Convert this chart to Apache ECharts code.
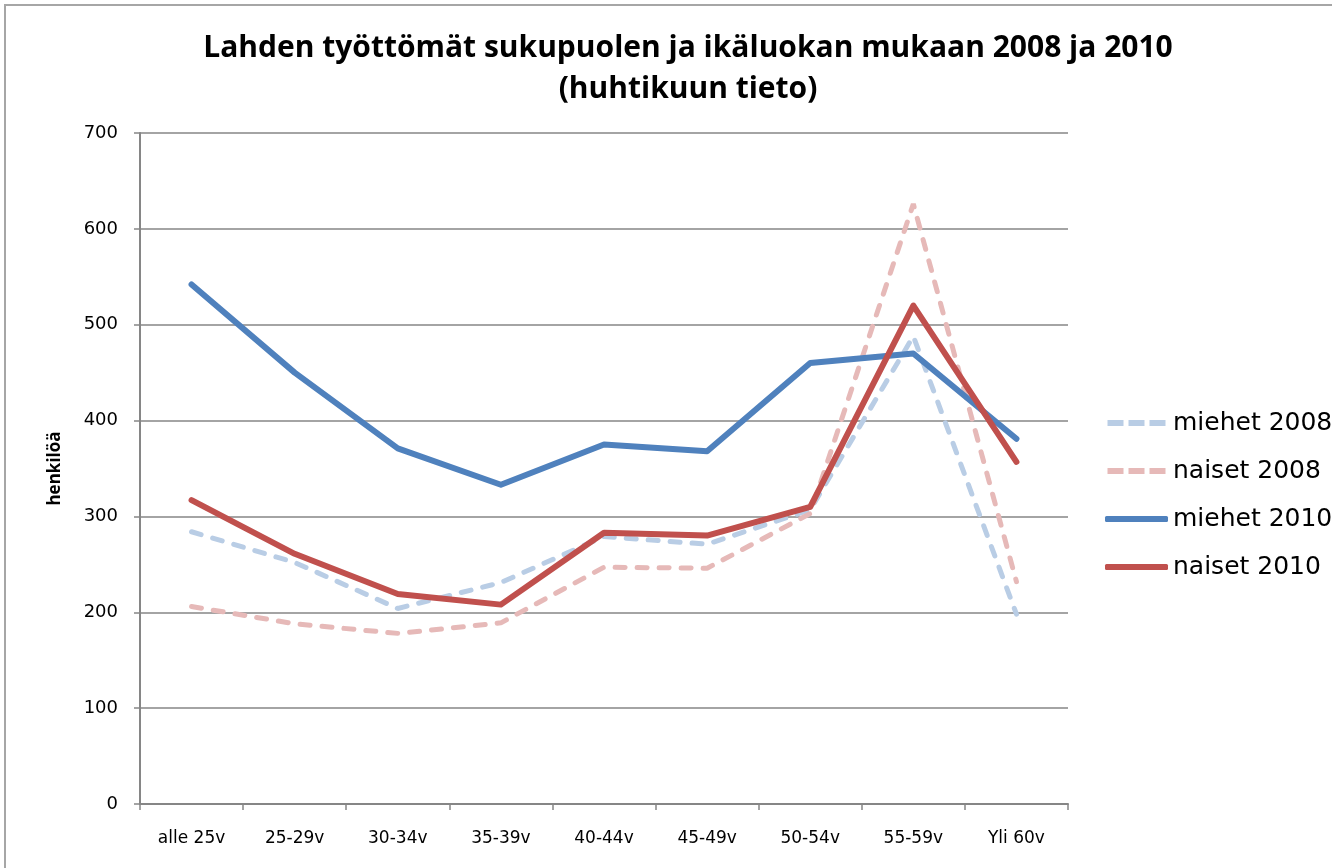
<!DOCTYPE html>
<html>
<head>
<meta charset="utf-8">
<script src="https://cdn.jsdelivr.net/npm/echarts@6/dist/echarts.min.js"></script>
<style>
  html, body { margin: 0; padding: 0; background: #fff; }
  #chart { width: 1332px; height: 868px; }
</style>
</head>
<body>
<div id="chart"></div>
<script>
// ikäluokat
const categories = ["alle 25v", "25-29v", "30-34v", "35-39v", "40-44v", "45-49v", "50-54v", "55-59v", "Yli 60v"];
const miehet2008 = [284, 252, 204, 231, 279, 271, 307, 488, 198];
const naiset2008 = [206, 188, 178, 189, 247, 246, 303, 626, 232];
const miehet2010 = [542, 450, 371, 333, 375, 368, 460, 470, 381];
const naiset2010 = [317, 261, 219, 208, 283, 280, 310, 520, 357];
const yTicks = [0, 100, 200, 300, 400, 500, 600, 700];

const chart = echarts.init(document.getElementById("chart"));

const gray = "#868686";
// katkoviivan selitekuvake
const dashIcon = "path://M0,0h16v6h-16z M21,0h16v6h-16z M42,0h16v6h-16z";

const option = {
  animation: false,
  title: {
    text: "Lahden työttömät sukupuolen ja ikäluokan mukaan 2008 ja 2010\n(huhtikuun tieto)",
    left: 683,
    top: 23,
    textAlign: "center",
    textStyle: {
      fontFamily: "Open Sans",
      fontWeight: "bold",
      fontSize: 30,
      lineHeight: 41,
      color: "#000"
    }
  },
  graphic: [
    {
      // kehys
      type: "rect",
      shape: { x: 5, y: 5, width: 1400, height: 1000 },
      style: { fill: "none", stroke: "#a6a6a6", lineWidth: 2 },
      silent: true
    }
  ],
  legend: {
    orient: "vertical",
    left: 1100,
    top: 403,
    itemWidth: 63,
    itemHeight: 6,
    itemGap: 18,
    textStyle: {
      fontFamily: "DejaVu Sans",
      fontSize: 25,
      lineHeight: 30,
      color: "#000"
    },
    data: [
      { name: "miehet 2008", icon: dashIcon },
      { name: "naiset 2008", icon: dashIcon },
      { name: "miehet 2010", icon: "roundRect" },
      { name: "naiset 2010", icon: "roundRect" }
    ]
  },
  grid: {
    left: 140,
    right: 264,
    top: 133,
    bottom: 64
  },
  xAxis: {
    type: "category",
    data: categories,
    boundaryGap: true,
    axisLine: { lineStyle: { color: gray, width: 2 } },
    axisTick: { show: true, length: 6, lineStyle: { color: gray, width: 1.5 } },
    axisLabel: {
      margin: 26,
      fontFamily: "DejaVu Sans",
      fontSize: 17,
      color: "#000"
    }
  },
  yAxis: {
    type: "value",
    min: 0,
    max: 700,
    interval: 100,
    name: "henkilöä",
    nameLocation: "middle",
    nameGap: 76,
    nameTextStyle: {
      fontFamily: "Open Sans",
      fontWeight: "bold",
      fontSize: 17,
      color: "#000"
    },
    axisLine: { show: true, lineStyle: { color: gray, width: 2 } },
    axisTick: { show: true, length: 6, lineStyle: { color: gray, width: 1.5 } },
    axisLabel: {
      margin: 22,
      fontFamily: "DejaVu Sans",
      fontSize: 18,
      color: "#000",
      formatter: (v) => (yTicks.includes(v) ? String(v) : "")
    },
    splitLine: { show: true, lineStyle: { color: gray, width: 1.5 } }
  },
  series: [
    {
      name: "miehet 2008",
      type: "line",
      data: miehet2008,
      symbol: "none",
      z: 2,
      lineStyle: { color: "#b9cde5", width: 5, type: [10, 12], cap: "round" },
      itemStyle: { color: "#b9cde5" }
    },
    {
      name: "naiset 2008",
      type: "line",
      data: naiset2008,
      symbol: "none",
      z: 2,
      lineStyle: { color: "#e6b9b8", width: 5, type: [10, 12], cap: "round" },
      itemStyle: { color: "#e6b9b8" }
    },
    {
      name: "miehet 2010",
      type: "line",
      data: miehet2010,
      symbol: "none",
      z: 3,
      lineStyle: { color: "#4f81bd", width: 6, cap: "round", join: "round" },
      itemStyle: { color: "#4f81bd" }
    },
    {
      name: "naiset 2010",
      type: "line",
      data: naiset2010,
      symbol: "none",
      z: 4,
      lineStyle: { color: "#c0504d", width: 6, cap: "round", join: "round" },
      itemStyle: { color: "#c0504d" }
    }
  ]
};

option && chart.setOption(option);
</script>
</body>
</html>
